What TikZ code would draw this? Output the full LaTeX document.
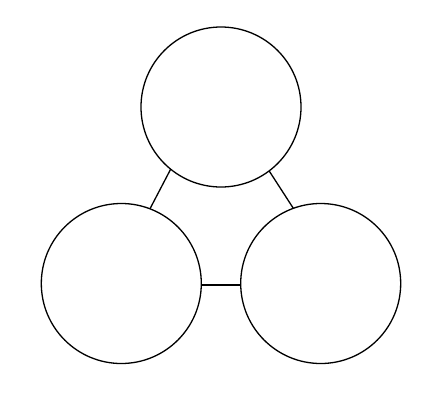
\documentclass[tikz,border=0pt]{standalone}
\begin{document}
\begin{tikzpicture}[x=1pt,y=-1pt,
  bubble/.style={circle,draw=black,line width=1.3pt,minimum size=160pt,inner sep=0pt,outer sep=0pt},
  link/.style={draw=black,line width=1.3pt}]
\useasboundingbox[fill=white] (0,0) rectangle (440,400);
\node[bubble] (top) at (221,107) {};
\node[bubble] (left) at (121.3,283.5) {};
\node[bubble] (right) at (320.7,283.5) {};
\draw[link] (top.231.7) -- (left.69.5);
\draw[link] (top.307.6) -- (right.110);
\draw[link] (left.-1.5) -- (right.181.5);
\end{tikzpicture}
\end{document}
